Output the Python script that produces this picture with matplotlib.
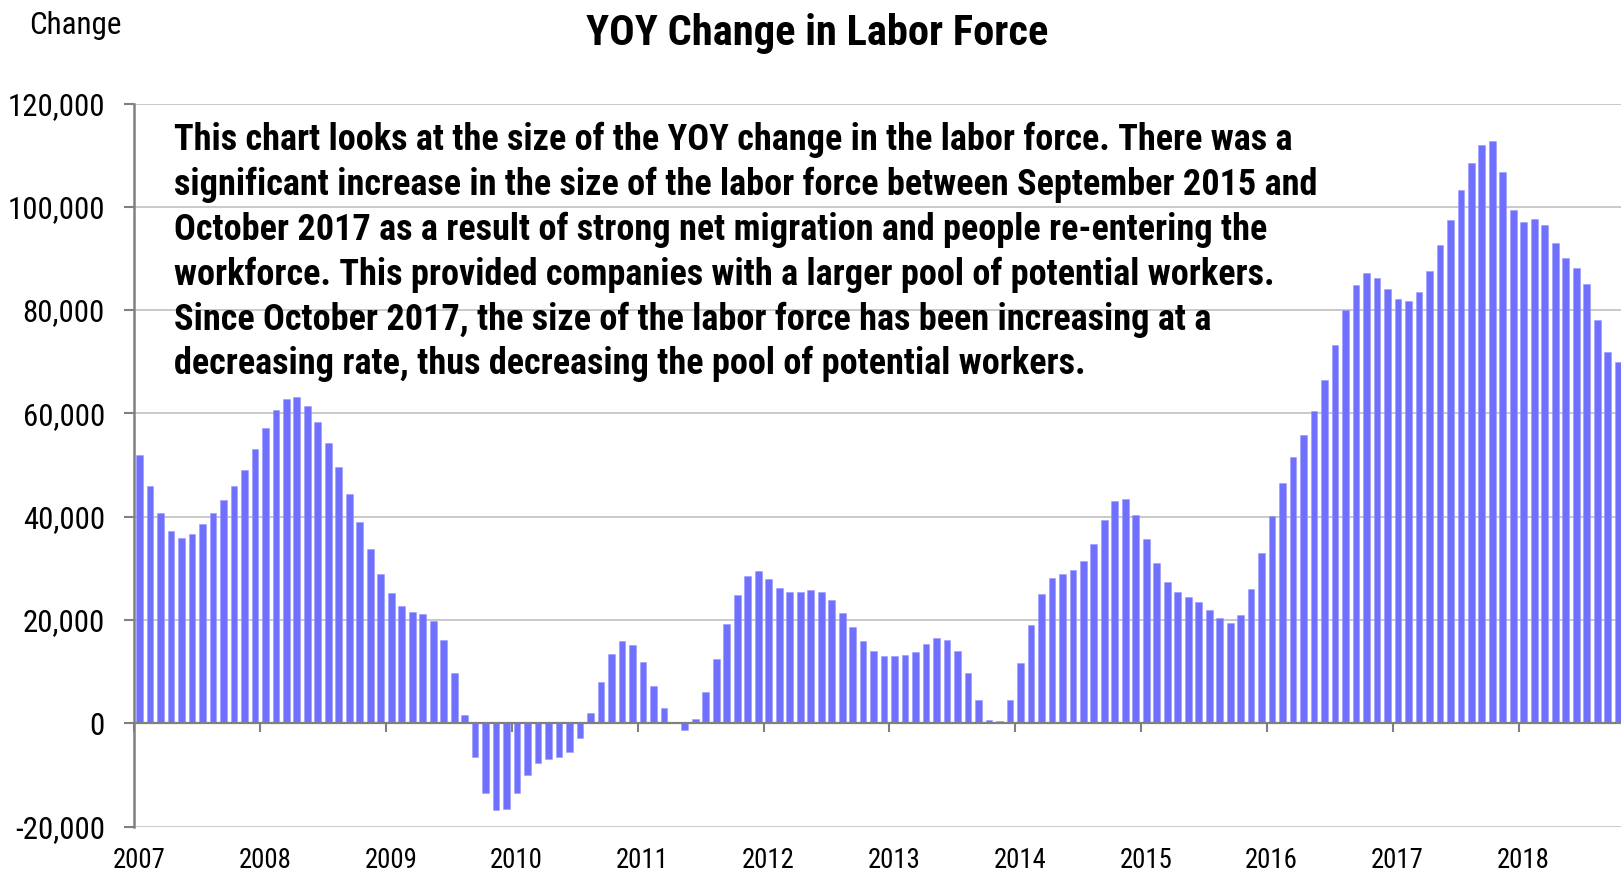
import os
import numpy as np
import matplotlib
matplotlib.use("Agg")
import matplotlib.pyplot as plt
from matplotlib import font_manager
import matplotlib.transforms as mtransforms

# monthly YOY change in the labor force, Jan 2007 .. Oct 2018
yoy_2007 = [52000, 45900, 40700, 37200, 35900, 36700, 38500, 40700, 43200, 45900, 49100, 53100]
yoy_2008 = [57200, 60600, 62800, 63100, 61400, 58300, 54200, 49600, 44300, 39000, 33800, 29000]
yoy_2009 = [25200, 22800, 21600, 21200, 19800, 16100, 9800, 1700, -6600, -13400, -16800, -16600]
yoy_2010 = [-13500, -10000, -7700, -6900, -6600, -5500, -2900, 2000, 7900, 13400, 15900, 15100]
yoy_2011 = [11800, 7300, 3000, 0, -1300, 900, 6000, 12400, 19300, 24800, 28500, 29500]
yoy_2012 = [27900, 26200, 25500, 25500, 25800, 25400, 23900, 21300, 18600, 15900, 14000, 13000]
yoy_2013 = [13000, 13200, 13800, 15300, 16500, 16200, 14000, 9800, 4600, 700, 500, 4500]
yoy_2014 = [11600, 19000, 25000, 28100, 28900, 29600, 31400, 34800, 39400, 43000, 43400, 40300]
yoy_2015 = [35600, 31000, 27400, 25400, 24500, 23400, 21900, 20300, 19400, 21000, 26000, 33000]
yoy_2016 = [40200, 46500, 51500, 55800, 60500, 66400, 73300, 80000, 84900, 87200, 86300, 84000]
yoy_2017 = [82100, 81800, 83600, 87600, 92600, 97500, 103200, 108400, 111900, 112700, 106800, 99300]
yoy_2018 = [97100, 97600, 96400, 92900, 90100, 88200, 85100, 78100, 71900, 70000]

years = [2007, 2008, 2009, 2010, 2011, 2012, 2013, 2014, 2015, 2016, 2017, 2018]
yoy = (yoy_2007 + yoy_2008 + yoy_2009 + yoy_2010 + yoy_2011 + yoy_2012
       + yoy_2013 + yoy_2014 + yoy_2015 + yoy_2016 + yoy_2017 + yoy_2018)
y_ticks = [-20000, 0, 20000, 40000, 60000, 80000, 100000, 120000]

note_lines = [
    "This chart looks at the size of the YOY change in the labor force. There was a",
    "significant increase in the size of the labor force between September 2015 and",
    "October 2017 as a result of strong net migration and people re-entering the",
    "workforce. This provided companies with a larger pool of potential workers.",
    "Since October 2017, the size of the labor force has been increasing at a",
    "decreasing rate, thus decreasing the pool of potential workers.",
]

# look for a narrow sans font (the original uses Arial Narrow)
font_paths = [f.fname for f in font_manager.fontManager.ttflist]


def find_font(names):
    for n in names:
        for p in font_paths:
            if os.path.basename(p).lower() == n.lower():
                return font_manager.FontProperties(fname=p)
    return None


fp_reg = find_font(["LiberationSansNarrow-Regular.ttf", "ArialNarrow.ttf", "RobotoCondensed-Regular.ttf",
                    "NotoSans-Condensed.ttf", "DejaVuSansCondensed.ttf", "LiberationSans-Regular.ttf"])
fp_bold = find_font(["LiberationSansNarrow-Bold.ttf", "ArialNarrowBold.ttf", "RobotoCondensed-Bold.ttf",
                     "NotoSans-CondensedBold.ttf", "DejaVuSansCondensed-Bold.ttf", "LiberationSans-Bold.ttf"])
if fp_reg is None:
    fp_reg = font_manager.FontProperties(family="DejaVu Sans")
if fp_bold is None:
    fp_bold = font_manager.FontProperties(family="DejaVu Sans", weight="bold")

W, H = 1621, 876
fig = plt.figure(figsize=(W / 100, H / 100), dpi=100)
renderer = fig.canvas.get_renderer()


def fit_size(s, fp, target_px):
    # font size (pt) that gives the text the width it has in the original
    t = fig.text(0, 0, s, fontproperties=fp, fontsize=20)
    w = t.get_window_extent(renderer).width
    t.remove()
    return 20 * target_px / w


sz_tick = fit_size("-20,000", fp_reg, 90)
sz_year = fit_size("2007", fp_reg, 53)
sz_change = fit_size("Change", fp_reg, 92)
sz_title = fit_size("YOY Change in Labor Force", fp_bold, 462)
sz_note = fit_size(note_lines[1], fp_bold, 1140)

ax = fig.add_axes([134.3 / W, (H - 826.6) / H, (W - 134.3) / W, (826.6 - 103.5) / H])

x = np.arange(len(yoy)) + 0.5
ax.bar(x, yoy, width=0.64, color="#7070ff", edgecolor="#9a9aff", linewidth=0.4, zorder=3)

ax.set_xlim(0, 141.77)
ax.set_ylim(-20000, 120000)
ax.set_yticks(y_ticks, labels=[f"{v:,}" for v in y_ticks], fontproperties=fp_reg, fontsize=sz_tick)
ax.grid(axis="y", color="#c0c0c0", linewidth=1.2, zorder=0)

for s in ["top", "right"]:
    ax.spines[s].set_visible(False)
ax.spines["left"].set_color("#808080")
ax.spines["left"].set_linewidth(1.8)
ax.spines["bottom"].set_position(("data", 0))
ax.spines["bottom"].set_color("#808080")
ax.spines["bottom"].set_linewidth(1.6)
ax.spines["bottom"].set_zorder(4)

ax.set_xticks(np.arange(len(years)) * 12)
ax.set_xticklabels([])
ax.tick_params(axis="x", direction="out", length=6.7, width=1.5, color="#808080")
ax.tick_params(axis="y", direction="out", length=7.2, width=1.5, color="#808080", pad=13.9)

# year labels sit under the plot, away from the zero line that carries the ticks
trans = mtransforms.blended_transform_factory(ax.transData, ax.transAxes)
for i, yr in enumerate(years):
    ax.text(i * 12 + 0.45, (826.6 - 867.5) / 723.1, str(yr), transform=trans, ha="center",
            va="baseline", fontproperties=fp_reg, fontsize=sz_year, clip_on=False)

fig.text(29 / W, 1 - 34 / H, "Change", ha="left", va="baseline", fontproperties=fp_reg,
         fontsize=sz_change)
fig.text(817 / W, 1 - 45.5 / H, "YOY Change in Labor Force", ha="center", va="baseline",
         fontproperties=fp_bold, fontsize=sz_title)
for i, line in enumerate(note_lines):
    ax.text(173.7 / W, 1 - (150 + 44.9 * i) / H, line, transform=fig.transFigure, ha="left",
            va="baseline", fontproperties=fp_bold, fontsize=sz_note, zorder=5)

fig.savefig("out.png", dpi=100)
